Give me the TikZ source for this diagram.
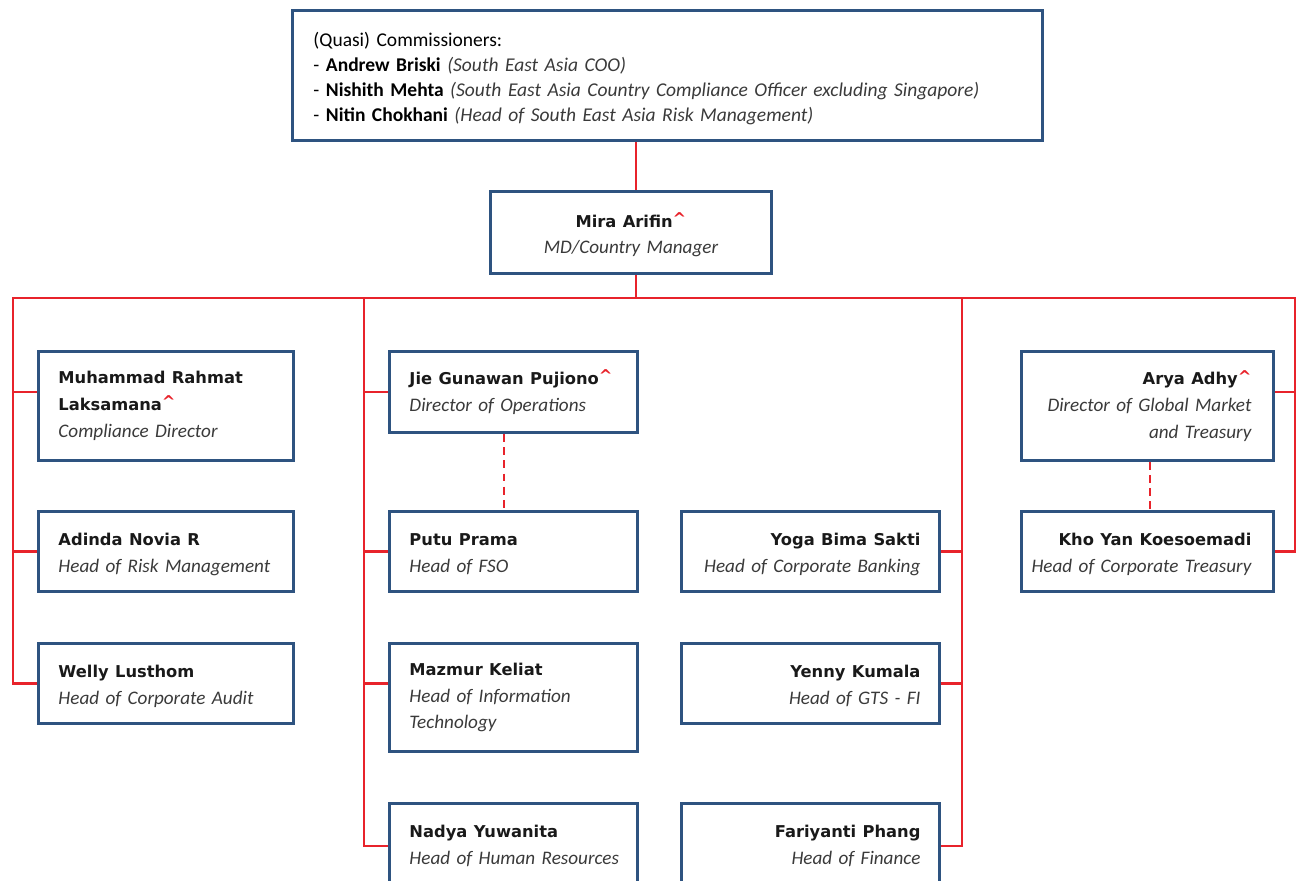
\documentclass[tikz,border=0pt]{standalone}
\usepackage{fontspec}
\setmainfont{Carlito}
\newfontfamily\namefont{DejaVu Sans}[Scale=0.851]
\usetikzlibrary{positioning}

\definecolor{boxblue}{HTML}{2E5380}
\definecolor{linered}{HTML}{E8232B}
\definecolor{titlegrey}{HTML}{3A3A3A}

\newcommand{\nm}[1]{{\namefont\bfseries\color{black!90}#1}}
\newcommand{\ttl}[1]{{\itshape\color{titlegrey}#1}}
\newcommand{\hatmark}{\raisebox{0.3ex}{\color{linered}\textasciicircum}}

\tikzset{
  staff/.style={draw=boxblue, line width=1.7pt, inner xsep=0.1cm, inner ysep=0pt,
    anchor=north west, font=\fontsize{10.9}{15.3}\selectfont},
  lstaff/.style={staff, align=left, execute at begin node={\leftskip=0.3cm\relax}},
  rstaff/.style={staff, align=right, execute at begin node={\rightskip=0.28cm\relax}},
  redline/.style={draw=linered, line width=1.4pt},
  dashline/.style={redline, dash pattern=on 4.5pt off 3pt},
}

\begin{document}
\begin{tikzpicture}[x=0.02cm, y=-0.02cm]
  \useasboundingbox (0,0) rectangle (1301,881);

  % board
  \node[lstaff, text width=14.8cm, minimum height=2.6cm,
    execute at begin node={\leftskip=0.32cm\relax},
    font=\fontsize{11.1}{14.2}\selectfont] (comm) at (291,9)
    {\rule{0pt}{12pt}(Quasi) Commissioners:\\
     - \textbf{Andrew Briski} \ttl{(South East Asia COO)}\\
     - \textbf{Nishith Mehta} \ttl{(South East Asia Country Compliance Officer excluding Singapore)}\\
     - \textbf{Nitin Chokhani} \ttl{(Head of South East Asia Risk Management)}};

  % country manager
  \node[staff, align=center, text width=5.42cm, minimum height=1.64cm] (mira) at (489,190)
    {\rule{0pt}{11pt}\nm{Mira Arifin\hatmark}\\ \ttl{MD/Country Manager}};

  % left column
  \node[lstaff, text width=4.9cm, minimum height=2.18cm] (muhammad) at (37,350)
    {\nm{Muhammad Rahmat}\\ \nm{Laksamana\hatmark}\\ \ttl{Compliance Director}};
  \node[lstaff, text width=4.9cm, minimum height=1.6cm] (adinda) at (37,510)
    {\rule{0pt}{10pt}\nm{Adinda Novia R}\\ \ttl{Head of Risk Management}};
  \node[lstaff, text width=4.9cm, minimum height=1.6cm] (welly) at (37,642)
    {\rule{0pt}{10pt}\nm{Welly Lusthom}\\ \ttl{Head of Corporate Audit}};

  % middle column
  \node[lstaff, text width=4.76cm, minimum height=1.62cm] (jie) at (388,350)
    {\nm{Jie Gunawan Pujiono\hatmark}\\ \ttl{Director of Operations}};
  \node[lstaff, text width=4.76cm, minimum height=1.6cm] (putu) at (388,510)
    {\rule{0pt}{10pt}\nm{Putu Prama}\\ \ttl{Head of FSO}};
  \node[lstaff, text width=4.76cm, minimum height=2.16cm] (mazmur) at (388,642)
    {\nm{Mazmur Keliat}\\ \ttl{Head of Information}\\ \ttl{Technology}};
  \node[lstaff, text width=4.76cm, minimum height=1.7cm] (nadya) at (388,802)
    {\nm{Nadya Yuwanita}\\ \ttl{Head of Human Resources}\\[2pt]};

  % right middle column
  \node[rstaff, text width=4.96cm, minimum height=1.6cm] (yoga) at (680,510)
    {\rule{0pt}{10pt}\nm{Yoga Bima Sakti}\\ \ttl{Head of Corporate Banking}};
  \node[rstaff, text width=4.96cm, minimum height=1.6cm] (yenny) at (680,642)
    {\rule{0pt}{10pt}\nm{Yenny Kumala}\\ \ttl{Head of GTS - FI}};
  \node[rstaff, text width=4.96cm, minimum height=1.7cm] (fariyanti) at (680,802)
    {\nm{Fariyanti Phang}\\ \ttl{Head of Finance}\\[2pt]};

  % right column
  \node[rstaff, text width=4.84cm, minimum height=2.18cm,
    execute at begin node={\rightskip=0.34cm\relax}] (arya) at (1020,350)
    {\nm{Arya Adhy\hatmark}\\ \ttl{Director of Global Market}\\ \ttl{and Treasury}};
  \node[rstaff, text width=4.84cm, minimum height=1.6cm,
    execute at begin node={\rightskip=0.34cm\relax}] (kho) at (1020,510)
    {\rule{0pt}{10pt}\nm{Kho Yan Koesoemadi}\\ \ttl{Head of Corporate Treasury}};

  % bus
  \coordinate (spine) at (636,298);
  \coordinate (b1) at (13,298);
  \coordinate (b2) at (364,298);
  \coordinate (b3) at (962,298);
  \coordinate (b4) at (1295,298);
  \coordinate (jdash) at (504,440);
  \coordinate (adash) at (1150,480);

  \draw[redline] (spine |- comm.south) -- (spine |- mira.north);
  \draw[redline] (spine |- mira.south) -- (spine);
  \draw[redline] (welly.west) -| (b1) -- (b4) |- (kho.east);

  % left
  \draw[redline] (b1 |- jie.west) -- (muhammad.west |- jie.west);
  \draw[redline] (b1 |- adinda.west) -- (adinda.west);

  % middle
  \draw[redline] (b2) |- (nadya.west);
  \draw[redline] (b2 |- jie.west) -- (jie.west);
  \draw[redline] (b2 |- putu.west) -- (putu.west);
  \draw[redline] (b2 |- welly.west) -- (mazmur.west |- welly.west);
  \draw[dashline] (jdash |- jie.south) -- (jdash |- putu.north);

  % right middle
  \draw[redline] (b3) |- (fariyanti.east);
  \draw[redline] (b3 |- yoga.east) -- (yoga.east);
  \draw[redline] (b3 |- yenny.east) -- (yenny.east);

  % right
  \draw[redline] (b4 |- jie.east) -- (arya.east |- jie.east);
  \draw[dashline] (adash |- arya.south) -- (adash |- kho.north);
\end{tikzpicture}
\end{document}
